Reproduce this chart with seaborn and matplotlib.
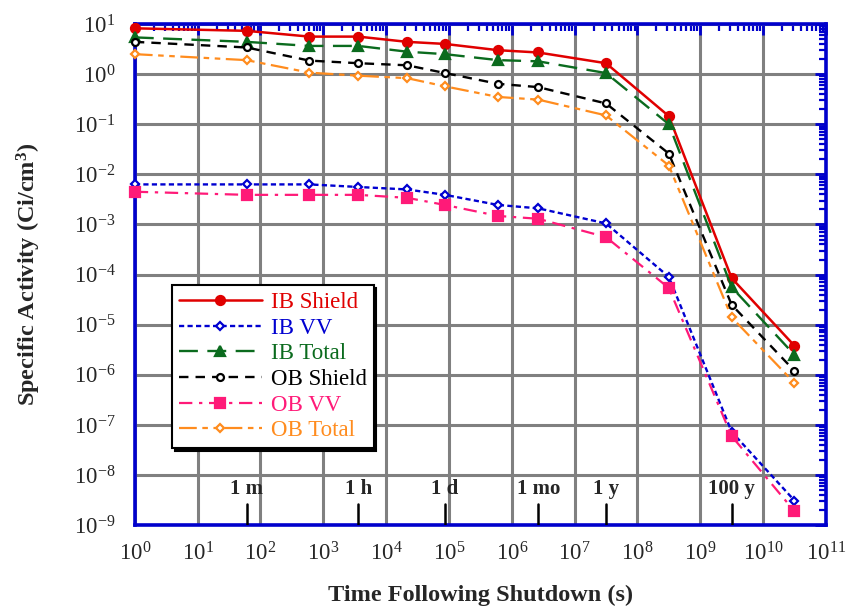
import numpy as np
import pandas as pd
import matplotlib
matplotlib.use("Agg")
import matplotlib.pyplot as plt
import matplotlib.ticker as mticker
import seaborn as sns

# ---- data ----
time_s = [1, 60, 600, 3600, 21600, 86400, 604800, 2.63e6, 3.156e7, 3.156e8, 3.156e9, 3.156e10]

ib_shield = [8.2, 7.3, 5.6, 5.6, 4.4, 4.0, 3.0, 2.7, 1.65, 0.145, 8.5e-5, 3.8e-6]
ib_vv     = [6.3e-3, 6.3e-3, 6.3e-3, 5.6e-3, 5.0e-3, 3.9e-3, 2.45e-3, 2.1e-3, 1.05e-3, 9e-5, 7.3e-8, 3.1e-9]
ib_total  = [5.4, 4.4, 3.65, 3.65, 2.8, 2.5, 1.9, 1.8, 1.05, 0.1, 5.6e-5, 2.5e-6]
ob_shield = [4.4, 3.4, 1.86, 1.65, 1.5, 1.05, 0.64, 0.55, 0.26, 0.026, 2.5e-5, 1.2e-6]
ob_vv     = [4.5e-3, 3.9e-3, 3.9e-3, 3.9e-3, 3.4e-3, 2.45e-3, 1.48e-3, 1.3e-3, 5.6e-4, 5.4e-5, 6e-8, 1.9e-9]
ob_total  = [2.5, 1.9, 1.07, 0.93, 0.83, 0.57, 0.35, 0.31, 0.15, 0.015, 1.4e-5, 6.9e-7]

series_names = ["IB Shield", "IB VV", "IB Total", "OB Shield", "OB VV", "OB Total"]
series_values = [ib_shield, ib_vv, ib_total, ob_shield, ob_vv, ob_total]

mark_times = [60, 3600, 86400, 2.63e6, 3.156e7, 3.156e9]
mark_labels = ["1 m", "1 h", "1 d", "1 mo", "1 y", "100 y"]

x_ticks = [10.0 ** k for k in range(0, 12)]
y_ticks = [10.0 ** k for k in range(-9, 2)]

# ---- styles ----
colors = ["#e00000", "#0000d0", "#0b6b1e", "#000000", "#ff1a78", "#ff8c1e"]
markers = ["o", "D", "^", "o", "s", "D"]
msizes = [6.5, 4.5, 7.5, 5, 7, 4.5]
mfaces = ["#e00000", "white", "#0b6b1e", "white", "#ff1a78", "white"]
lstyles = ["-", (0, (2.2, 1.4)), (0, (8, 4)), (0, (4, 3)), (0, (6, 3, 1.5, 3)), (0, (8, 2.5, 2.5, 2.5, 2.5, 2.5))]
lwidths = [1.8, 1.7, 1.7, 1.7, 1.6, 1.6]

sns.set_style("white")
plt.rcParams["font.family"] = ["Liberation Serif", "DejaVu Serif"]
plt.rcParams["mathtext.fontset"] = "custom"
plt.rcParams["mathtext.rm"] = "Liberation Serif"
plt.rcParams["mathtext.it"] = "Liberation Serif:italic"
plt.rcParams["mathtext.bf"] = "Liberation Serif:bold"

fig = plt.figure(figsize=(8.48, 6.15), dpi=100)
ax = fig.add_axes([0.159, 0.146, 0.815, 0.815])

df = pd.DataFrame({"time": np.tile(time_s, len(series_names)),
                   "value": np.concatenate(series_values),
                   "series": np.repeat(series_names, len(time_s))})

for i, name in enumerate(series_names):
    sub = df[df["series"] == name]
    sns.lineplot(data=sub, x="time", y="value", ax=ax, color=colors[i],
                 marker=markers[i], markersize=msizes[i],
                 markerfacecolor=mfaces[i], markeredgecolor=colors[i],
                 markeredgewidth=1.6, linestyle=lstyles[i], linewidth=lwidths[i],
                 estimator=None, errorbar=None, label=name, zorder=5, clip_on=False)

ax.set_xscale("log")
ax.set_yscale("log")
ax.set_xlim(1, 1e11)
ax.set_ylim(1e-9, 10)

blue = "#0000cc"
ax.xaxis.set_major_locator(mticker.FixedLocator(x_ticks))
ax.yaxis.set_major_locator(mticker.FixedLocator(y_ticks))
ax.xaxis.set_minor_locator(mticker.LogLocator(base=10, subs=np.arange(2, 10), numticks=30))
ax.yaxis.set_minor_locator(mticker.LogLocator(base=10, subs=np.arange(2, 10), numticks=30))
fmt = mticker.FuncFormatter(lambda v, p: r"$\mathregular{10^{%d}}$" % int(round(np.log10(v))))
ax.xaxis.set_major_formatter(fmt)
ax.yaxis.set_major_formatter(fmt)
ax.tick_params(which="both", direction="in", top=True, right=True, color=blue, labelsize=16.5)
ax.tick_params(which="major", length=8, width=2)
ax.tick_params(which="minor", length=5, width=1.6)
ax.tick_params(axis="y", which="major", pad=14)
ax.tick_params(axis="x", which="major", pad=12)

ax.grid(True, which="major", color="#808080", linewidth=2.2)
ax.set_axisbelow(True)
for sp in ax.spines.values():
    sp.set_color(blue)
    sp.set_linewidth(2.6)

ax.set_xlabel("Time Following Shutdown (s)", fontsize=17.5, fontweight="bold", labelpad=14)
ax.set_ylabel(r"Specific Activity (Ci/cm$^{\mathbf{3}}$)", fontsize=17.5, fontweight="bold", labelpad=22)

# time markers
for t, lab in zip(mark_times, mark_labels):
    ax.plot([t, t], [1e-9, 10 ** -8.58], color="black", linewidth=1.8, zorder=4)
    ax.text(t, 10 ** -8.27, lab, ha="center", va="center", fontsize=15, fontweight="bold")

leg = ax.legend(loc="upper left", bbox_to_anchor=(0.054, 0.479), borderaxespad=0,
                frameon=True, fancybox=False, edgecolor="black", shadow={"color": "black", "alpha": 1},
                fontsize=16.5, handlelength=3.6, labelspacing=0.2, handletextpad=0.4,
                borderpad=0.3, labelcolor="linecolor")
leg.get_frame().set_linewidth(1.5)
leg.set_zorder(10)

fig.savefig("out.png", dpi=100)
